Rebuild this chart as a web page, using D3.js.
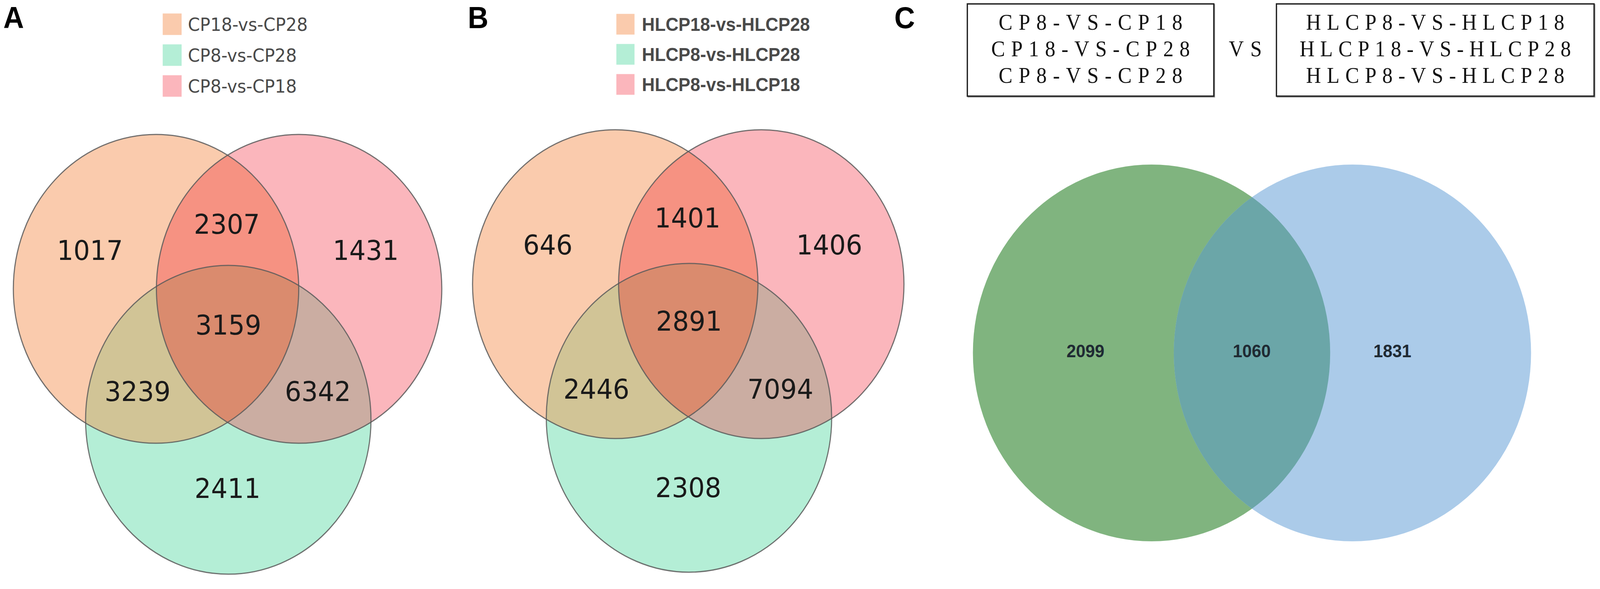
<!DOCTYPE html>
<html><head><meta charset="utf-8">
<script src="https://cdn.jsdelivr.net/npm/d3@7/dist/d3.min.js"></script>
<style>html,body{margin:0;padding:0;background:#fff;overflow:hidden;width:100%;height:100%;} svg{display:block;width:100vw;height:100vh;}</style>
</head><body>
<script>
// ---------------- DATA ----------------
const panelLabels = ["A", "B", "C"];
// set order: 0 = top-left (orange), 1 = bottom (green), 2 = top-right (pink)
const setsA = ["CP18-vs-CP28", "CP8-vs-CP28", "CP8-vs-CP18"];
const setsB = ["HLCP18-vs-HLCP28", "HLCP8-vs-HLCP28", "HLCP8-vs-HLCP18"];
const regionKeys = ["0", "02", "2", "012", "01", "12", "1"];
const valuesA = [1017, 2307, 1431, 3159, 3239, 6342, 2411];
const valuesB = [646, 1401, 1406, 2891, 2446, 7094, 2308];
const boxLeftLines = ["CP8-VS-CP18", "CP18-VS-CP28", "CP8-VS-CP28"];
const boxRightLines = ["HLCP8-VS-HLCP18", "HLCP18-VS-HLCP28", "HLCP8-VS-HLCP28"];
const versusLabel = "VS";
const regionKeysC = ["0", "01", "1"];
const valuesC = [2099, 1060, 1831];

// ---------------- STYLE / LAYOUT ----------------
const W = 4317, H = 1507;
const setColors = ["#FACBAD", "#B4EED6", "#FBB6BC"];
const pairColors = {"02": "#F69282", "01": "#D1C496", "12": "#CBADA2"};
const tripleColor = "#DA8B6E";
const cColors = ["#80B47F", "#ABCBE9"];
const cOverlap = "#6BA6A8";

// unit geometry of the 3-set venn (unit = distance between the two top circle centres)
const centers3 = [[0, 0], [0.505, 0.868], [1, 0]];
const labelPos3 = {"0": [-0.462, -0.258], "02": [0.495, -0.433], "2": [1.466, -0.258],
  "012": [0.505, 0.237], "01": [-0.129, 0.677], "12": [1.131, 0.677], "1": [0.5, 1.318]};

const svg = d3.select("body").append("svg")
  .attr("viewBox", `0 0 ${W} ${H}`).attr("preserveAspectRatio", "none");
const defs = svg.append("defs");

function venn3(id, origin, unit, sets, values, legend) {
  const x = d3.scaleLinear().domain([0, 1]).range([origin[0], origin[0] + unit]);
  const y = d3.scaleLinear().domain([0, 1]).range([origin[1], origin[1] + unit]);
  const rx = 385, ry = 395;
  const g = svg.append("g");
  centers3.forEach((c, i) => {
    defs.append("clipPath").attr("id", `${id}c${i}`)
      .append("ellipse").attr("cx", x(c[0])).attr("cy", y(c[1])).attr("rx", rx).attr("ry", ry);
  });
  const ell = (sel, i) => sel.append("ellipse").attr("cx", x(centers3[i][0])).attr("cy", y(centers3[i][1]))
    .attr("rx", rx).attr("ry", ry);
  // singles
  [0, 2, 1].forEach(i => ell(g, i).attr("fill", setColors[i]));
  // pairs
  ell(g, 2).attr("fill", pairColors["02"]).attr("clip-path", `url(#${id}c0)`);
  ell(g, 1).attr("fill", pairColors["01"]).attr("clip-path", `url(#${id}c0)`);
  ell(g, 1).attr("fill", pairColors["12"]).attr("clip-path", `url(#${id}c2)`);
  // triple
  const tg = g.append("g").attr("clip-path", `url(#${id}c0)`);
  ell(tg, 1).attr("fill", tripleColor).attr("clip-path", `url(#${id}c2)`);
  // outlines
  [0, 2, 1].forEach(i => ell(g, i).attr("fill", "none").attr("stroke", "#5a5a5a").attr("stroke-width", 3).attr("stroke-opacity", 0.85));
  // numbers
  g.selectAll("text.num").data(regionKeys.map((k, i) => ({k, v: values[i]}))).join("text")
    .attr("class", "num")
    .attr("x", d => x(labelPos3[d.k][0]))
    .attr("y", d => y(labelPos3[d.k][1]) + 26)
    .attr("text-anchor", "middle")
    .attr("font-family", "DejaVu Sans").attr("font-size", 70).attr("fill", "#1a1a1a")
    .text(d => d.v);
  // legend
  const lg = svg.append("g");
  const order = [0, 1, 2];
  const ly = d3.scalePoint().domain(order).range([legend.y0, legend.y0 + legend.step * 2]);
  order.forEach(i => {
    lg.append("rect").attr("x", legend.x).attr("y", ly(i) - legend.sh / 2)
      .attr("width", legend.sw).attr("height", legend.sh).attr("fill", setColors[i]);
    lg.append("text").attr("x", legend.x + legend.sw + legend.gap).attr("y", ly(i) + 17)
      .attr("font-family", legend.font).attr("font-weight", legend.weight)
      .attr("font-size", legend.size).attr("fill", "#4a4a4a").text(sets[i]);
  });
}

venn3("va", [421, 739], 386, setsA, valuesA,
  {x: 439, y0: 62, step: 79, sw: 51, sh: 55, gap: 17, font: "DejaVu Sans", weight: "normal", size: 46.5});
venn3("vb", [1660, 727], 394, setsB, valuesB,
  {x: 1663, y0: 62, step: 77, sw: 49, sh: 53, gap: 20, font: "Liberation Sans", weight: "bold", size: 48});

// ---------------- PANEL C ----------------
const cx = d3.scaleLinear().domain([0, 1]).range([3107, 3649]);
const cr = 482, ccy = 903;
const gc = svg.append("g");
defs.append("clipPath").attr("id", "cc0").append("circle").attr("cx", cx(0)).attr("cy", ccy).attr("r", cr);
gc.append("circle").attr("cx", cx(0)).attr("cy", ccy).attr("r", cr).attr("fill", cColors[0]);
gc.append("circle").attr("cx", cx(1)).attr("cy", ccy).attr("r", cr).attr("fill", cColors[1]);
gc.append("circle").attr("cx", cx(1)).attr("cy", ccy).attr("r", cr).attr("fill", cOverlap).attr("clip-path", "url(#cc0)");
const cLabelX = {"0": -0.329, "01": 0.499, "1": 1.199};
gc.selectAll("text").data(regionKeysC.map((k, i) => ({k, v: valuesC[i]}))).join("text")
  .attr("x", d => cx(cLabelX[d.k])).attr("y", ccy - 5 + 16)
  .attr("text-anchor", "middle").attr("font-family", "Liberation Sans").attr("font-weight", "bold")
  .attr("font-size", 46).attr("fill", "#1f2a33").text(d => d.v);

// boxes
function box(x0, x1, lines, widths) {
  const b = svg.append("g");
  b.append("rect").attr("x", x0 + 2).attr("y", 12).attr("width", x1 - x0).attr("height", 236)
    .attr("fill", "none").attr("stroke", "#9a9a9a").attr("stroke-width", 3);
  b.append("rect").attr("x", x0).attr("y", 10).attr("width", x1 - x0).attr("height", 236)
    .attr("fill", "#fff").attr("stroke", "#222").attr("stroke-width", 3.5);
  const ys = d3.scalePoint().domain(lines).range([76, 212]);
  lines.forEach((t, i) => {
    b.append("text").attr("x", (x0 + x1) / 2).attr("y", ys(t)).attr("text-anchor", "middle")
      .attr("font-family", "Liberation Serif").attr("font-size", 56).attr("fill", "#111")
      .attr("textLength", widths[i]).attr("lengthAdjust", "spacing").text(t);
  });
}
box(2610, 3275, boxLeftLines, [496, 536, 496]);
box(3444, 4301, boxRightLines, [697, 732, 697]);
svg.append("text").attr("x", 3360).attr("y", 144).attr("text-anchor", "middle")
  .attr("font-family", "Liberation Serif").attr("font-size", 56).attr("fill", "#111")
  .attr("textLength", 89).attr("lengthAdjust", "spacing").text(versusLabel);

// panel labels
const labelX = [9, 1262, 2413];
panelLabels.forEach((t, i) => {
  svg.append("text").attr("x", labelX[i]).attr("y", 72)
    .attr("font-family", "Liberation Sans").attr("font-weight", "bold").attr("font-size", 77)
    .attr("fill", "#000").text(t);
});
</script>
</body></html>
